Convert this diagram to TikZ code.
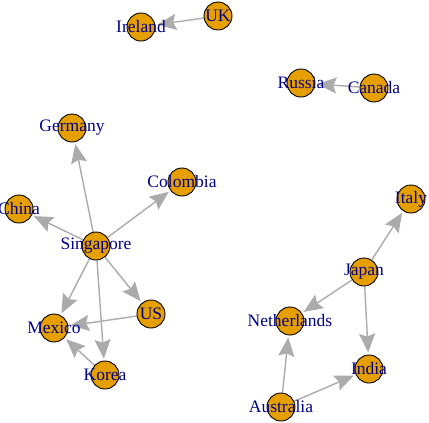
\documentclass[tikz,border=0pt]{standalone}
\usepackage{fontspec}
\setmainfont{Liberation Serif}
\usepackage{tikz}
\usetikzlibrary{arrows.meta,backgrounds}
\definecolor{laranja}{HTML}{E69F00}
\definecolor{azulesc}{HTML}{00008B}
\definecolor{cinza}{HTML}{ABABAB}

\begin{document}
\begin{tikzpicture}[x=1bp, y=-1bp,
  vertice/.style={circle, draw=black, fill=laranja, line width=0.9bp,
    minimum size=28bp, inner sep=0pt},
  rot/.style={text=azulesc, font=\fontsize{17.5bp}{20bp}\selectfont, inner sep=0pt},
  aresta/.style={cinza, line width=1.4bp, shorten >=2bp,
    -{Stealth[length=19bp, width=16bp, inset=3bp]}}]

\useasboundingbox (0,0) rectangle (429,423);

% ================= vertices =================
\node[vertice, label={[rot]center:UK}]          (uk)          at (218,16)  {};
\node[vertice, label={[rot]center:Ireland}]     (ireland)     at (141,27)  {};
\node[vertice, label={[rot]center:Russia}]      (russia)      at (301,83)  {};
\node[vertice, label={[rot]center:Canada}]      (canada)      at (374,88)  {};
\node[vertice, label={[rot]center:Germany}]     (germany)     at (72,128)  {};
\node[vertice, label={[rot]center:Colombia}]    (colombia)    at (182,182) {};
\node[vertice, label={[rot]center:China}]       (china)       at (19,209)  {};
\node[vertice, label={[rot]center:Singapore}]   (singapore)   at (96,246)  {};
\node[vertice, label={[rot]center:US}]          (us)          at (151,314) {};
\node[vertice, label={[rot]center:Mexico}]      (mexico)      at (54,328)  {};
\node[vertice, label={[rot]center:Korea}]       (korea)       at (105,375) {};
\node[vertice, label={[rot]center:Italy}]       (italy)       at (411,199) {};
\node[vertice, label={[rot]center:Japan}]       (japan)       at (364,272) {};
\node[vertice, label={[rot]center:Netherlands}] (netherlands) at (290,321) {};
\node[vertice, label={[rot]center:India}]       (india)       at (369,369) {};
\node[vertice, label={[rot]center:Australia}]   (australia)   at (281,407) {};

% ================= arestas =================
\begin{pgfonlayer}{background}
  \draw[aresta] (uk) -- (ireland);
  \draw[aresta] (canada) -- (russia);
  % singapore
  \draw[aresta] (singapore) -- (germany);
  \draw[aresta] (singapore) -- (colombia);
  \draw[aresta] (singapore) -- (china);
  \draw[aresta] (singapore) -- (mexico);
  \draw[aresta] (singapore) -- (korea);
  \draw[aresta] (singapore) -- (us);
  \draw[aresta] (us) -- (mexico);
  \draw[aresta] (korea) -- (mexico);
  % japan
  \draw[aresta] (japan) -- (italy);
  \draw[aresta] (japan) -- (netherlands);
  \draw[aresta] (japan) -- (india);
  \draw[aresta] (australia) -- (netherlands);
  \draw[aresta] (australia) -- (india);
\end{pgfonlayer}

\end{tikzpicture}
\end{document}
